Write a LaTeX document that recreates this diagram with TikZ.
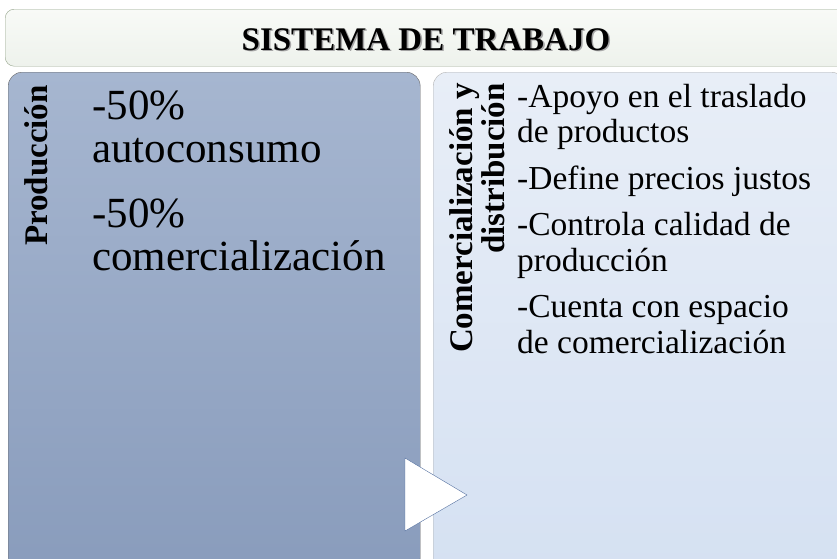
\documentclass[tikz,border=0pt]{standalone}
\usepackage{fontspec}
\setmainfont{Liberation Serif}
\usetikzlibrary{positioning,shapes}
\definecolor{lbtop}{RGB}{166,182,208}
\definecolor{lbbot}{RGB}{137,156,188}
\definecolor{rbtop}{RGB}{232,238,247}
\definecolor{rbbot}{RGB}{213,225,242}
\definecolor{ttop}{RGB}{248,250,247}
\definecolor{tbot}{RGB}{238,242,236}
\definecolor{tline}{RGB}{150,165,140}
\definecolor{triline}{RGB}{84,112,160}

\begin{document}
\begin{tikzpicture}[x=1pt,y=-1pt,
  titlebox/.style={draw=tline,top color=ttop,bottom color=tbot,rounded corners=9pt,
    minimum width=842pt,minimum height=57pt,anchor=north west,inner sep=0pt},
  titletxt/.style={font=\fontsize{33}{35}\selectfont\bfseries,anchor=base,inner sep=0pt},
  lbox/.style={draw=black!60,top color=lbtop,bottom color=lbbot,rounded corners=14pt,
    minimum width=412pt,minimum height=500pt,anchor=north west,inner sep=0pt},
  rbox/.style={draw=black!30,top color=rbtop,bottom color=rbbot,rounded corners=14pt,
    minimum width=412pt,minimum height=500pt,anchor=north west,inner sep=0pt},
  vlabel/.style={font=\fontsize{33}{32}\selectfont\bfseries,rotate=90,anchor=east,
    align=right,inner sep=0pt},
  btext/.style={align=left,anchor=north west,inner sep=0pt}]

  \useasboundingbox (0,0) rectangle (837,558);
  \clip (0,0) rectangle (837,558);
  \fill[white] (0,0) rectangle (837,558);

  % title bar
  \node[titlebox] (title) at (5,9) {};
  \node[titletxt,text=black!35] (titleshade) at (427.5,51.5) {SISTEMA DE TRABAJO};
  \node[titletxt] (titletext) at (426,50) {SISTEMA DE TRABAJO};

  % the two boxes
  \node[lbox] (prod) at (8,72) {};
  \node[rbox] (comer) at (433,72) {};

  \draw[triline,fill=white,thin] (405,458) -- (405,531) -- (467,495) -- cycle;

  % vertical labels
  \node[vlabel] (prodlabel) at (36,85) {Producción};
  \node[vlabel] (comerlabel) at (477,83) {Comercialización y\\distribución};

  % texts
  \node[btext,font=\fontsize{43}{43}\selectfont] (prodtext) at (92,91)
    {-50\%\\autoconsumo\\[22pt]-50\%\\comercialización};
  \node[btext,font=\fontsize{33.5}{35.5}\selectfont] (comertext) at (517,84)
    {-Apoyo en el traslado\\de productos\\[11pt]-Define precios justos\\[11pt]%
     -Controla calidad de\\producción\\[11pt]-Cuenta con espacio\\de comercialización};
\end{tikzpicture}
\end{document}
